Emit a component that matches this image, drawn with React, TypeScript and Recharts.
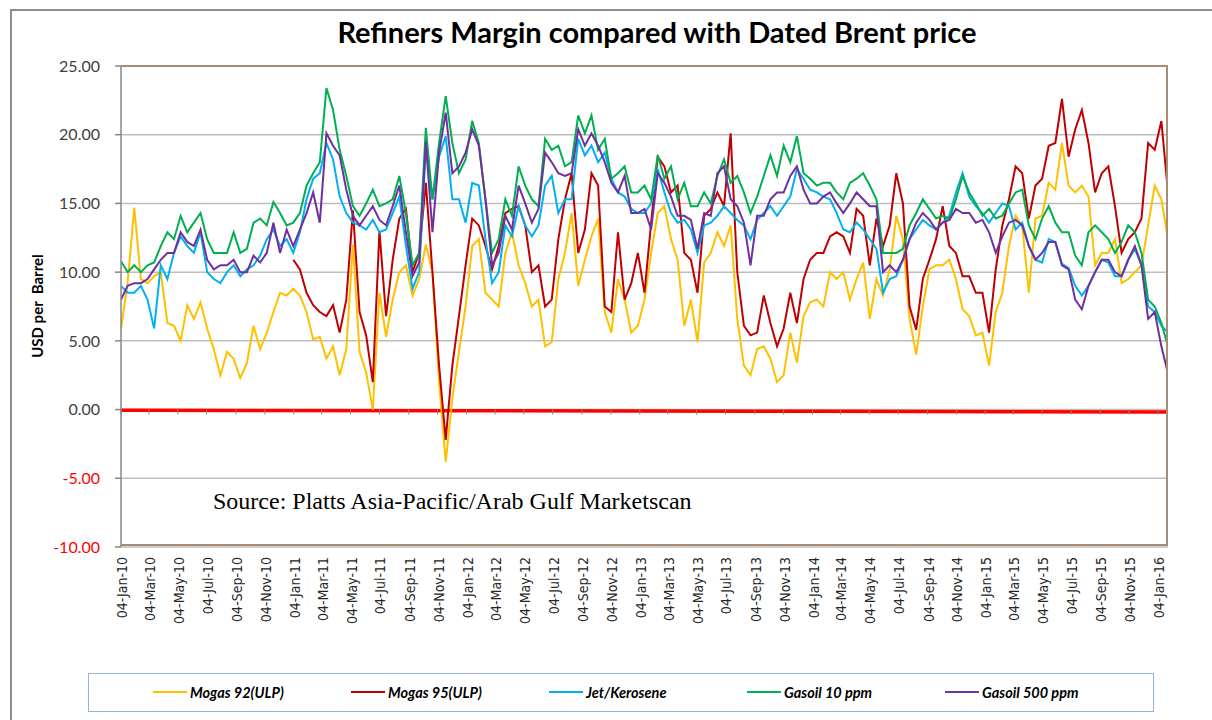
import React from 'react';
import { LineChart, Line, XAxis, YAxis, CartesianGrid } from 'recharts';

// fortnightly readings, first point 04-Jan-10
const START_DATE = '2010-01-04';
const STEP_DAYS = 14;

const mogas92 = [
  5.9, 9.2, 14.7, 9.5, 9.2, 9.7, 10.0, 6.3, 6.1, 5.0,
  7.6, 6.6, 7.8, 5.9, 4.4, 2.5, 4.2, 3.7, 2.3, 3.4,
  6.1, 4.4, 5.6, 7.1, 8.5, 8.3, 8.8, 8.3, 7.1, 5.1,
  5.3, 3.7, 4.6, 2.5, 4.4, 12.0, 4.2, 2.7, 0.0, 8.5,
  5.3, 8.0, 10.0, 10.5, 8.3, 9.5, 12.0, 10.0, 2.0, -3.8,
  0.8, 4.2, 7.5, 11.9, 12.4, 8.5, 8.0, 7.5, 11.4, 12.9,
  10.5, 9.2, 7.5, 8.0, 4.6, 4.9, 9.5, 11.4, 14.3, 9.0,
  10.9, 12.6, 13.9, 7.1, 5.6, 9.5, 8.0, 5.6, 6.1, 8.0,
  11.4, 14.3, 14.8, 12.4, 10.9, 6.1, 8.0, 4.9, 10.7, 11.4,
  12.9, 11.9, 13.4, 6.6, 3.2, 2.5, 4.4, 4.6, 3.7, 2.0,
  2.5, 5.6, 3.4, 6.8, 7.8, 8.0, 7.5, 10.0, 9.5, 10.0,
  8.0, 9.5, 10.7, 6.6, 9.5, 8.3, 10.2, 14.1, 12.4, 6.6,
  4.0, 7.5, 10.2, 10.5, 10.5, 10.9, 9.5, 7.3, 6.8, 5.4,
  5.6, 3.2, 7.1, 8.5, 11.9, 14.1, 13.4, 8.5, 13.9, 14.1,
  16.5, 16.0, 19.4, 16.3, 15.8, 16.3, 15.5, 10.5, 11.4, 11.4,
  12.4, 9.2, 9.5, 10.0, 10.5, 13.4, 16.3, 15.3, 12.4,
];

const mogas95 = [
  null, null, null, null, null, null, null, null, null, null,
  null, null, null, null, null, null, null, null, null, null,
  null, null, null, null, null, null, 10.9, 10.2, 8.5, 7.6,
  7.1, 6.8, 7.6, 5.6, 8.0, 14.5, 7.1, 5.4, 2.0, 13.0,
  6.8, 10.9, 13.9, 14.6, 10.0, 11.4, 16.5, 10.0, 3.2, -2.2,
  3.2, 6.8, 10.5, 13.9, 13.4, 11.9, 10.2, 11.9, 14.3, 14.6,
  14.8, 13.4, 10.0, 10.5, 7.5, 8.0, 12.4, 15.3, 17.2, 11.4,
  13.1, 17.2, 16.3, 7.5, 7.1, 12.9, 8.0, 9.2, 11.4, 8.5,
  13.6, 18.4, 17.7, 15.8, 16.3, 11.4, 10.9, 8.5, 14.1, 14.6,
  15.8, 14.8, 20.1, 10.0, 6.1, 5.4, 5.6, 8.3, 6.3, 4.6,
  5.9, 8.5, 6.3, 9.5, 10.9, 11.4, 11.4, 12.6, 12.9, 12.6,
  11.4, 14.6, 14.1, 10.5, 13.9, 11.9, 13.4, 17.2, 15.0, 7.5,
  5.8, 9.5, 10.9, 12.4, 14.8, 11.9, 11.4, 9.7, 9.7, 8.5,
  8.5, 5.6, 10.2, 13.4, 15.3, 17.7, 17.2, 13.9, 16.3, 16.8,
  19.2, 19.4, 22.6, 18.4, 20.4, 21.8, 19.4, 15.8, 17.2, 17.7,
  14.8, 11.4, 12.4, 12.9, 13.9, 19.4, 18.9, 21.0, 15.8,
];

const jetKerosene = [
  9.0, 8.5, 8.5, 9.0, 8.0, 5.9, 10.5, 9.5, 11.4, 12.6,
  11.9, 11.4, 12.9, 10.0, 9.5, 9.2, 10.0, 10.5, 9.7, 10.2,
  10.5, 11.2, 12.4, 13.1, 11.9, 12.4, 11.4, 12.9, 15.3, 16.8,
  17.2, 19.4, 18.2, 15.5, 14.3, 13.6, 13.4, 13.1, 13.8, 12.9,
  13.1, 14.3, 15.5, 11.9, 8.8, 10.0, 19.0, 15.3, 18.4, 19.9,
  15.3, 15.3, 13.6, 16.5, 16.3, 12.4, 9.2, 10.0, 13.4, 12.6,
  14.8, 13.4, 12.6, 13.4, 16.3, 17.0, 14.3, 15.3, 15.3, 19.7,
  18.5, 19.2, 18.0, 18.7, 16.8, 15.8, 15.5, 14.6, 14.3, 14.3,
  15.0, 17.5, 15.8, 14.3, 13.6, 13.8, 13.1, 11.4, 13.4, 13.6,
  14.1, 14.8, 14.3, 13.8, 13.4, 12.4, 13.8, 14.3, 14.8, 14.1,
  14.8, 15.5, 17.5, 16.8, 16.0, 15.8, 15.5, 15.3, 14.3, 13.1,
  12.9, 13.6, 13.1, 12.4, 11.7, 8.5, 9.5, 9.7, 10.9, 12.4,
  13.1, 13.8, 13.4, 13.1, 13.6, 14.1, 15.8, 17.2, 15.5, 14.8,
  14.3, 13.6, 14.3, 15.0, 14.8, 13.1, 13.6, 11.9, 10.9, 10.7,
  12.4, 12.2, 10.6, 10.3, 9.0, 8.3, 9.0, 10.0, 10.9, 10.7,
  9.7, 9.7, 10.9, 11.7, 10.5, 7.5, 7.1, 6.1, 5.6,
];

const gasoil10 = [
  10.8, 10.0, 10.5, 10.0, 10.5, 10.7, 11.9, 12.9, 12.4, 14.1,
  12.9, 13.6, 14.3, 12.4, 11.4, 11.4, 11.4, 12.9, 11.4, 11.7,
  13.6, 13.9, 13.4, 15.1, 14.3, 13.4, 13.6, 14.3, 16.3, 17.2,
  18.0, 23.4, 21.8, 18.9, 17.0, 14.8, 14.1, 15.0, 16.0, 14.8,
  15.0, 15.3, 17.0, 14.3, 10.5, 11.4, 20.5, 15.3, 19.4, 22.8,
  19.4, 17.2, 18.2, 21.0, 19.4, 15.3, 11.4, 12.4, 15.3, 14.1,
  17.7, 16.3, 15.3, 14.8, 19.7, 18.9, 19.2, 17.7, 18.0, 21.4,
  20.1, 21.4, 18.9, 19.7, 16.8, 17.2, 17.7, 15.8, 15.8, 16.3,
  15.3, 18.5, 16.8, 17.7, 15.3, 16.5, 14.8, 14.8, 15.8, 15.0,
  17.0, 18.2, 16.5, 17.0, 15.8, 14.3, 15.5, 17.0, 18.5, 17.0,
  19.2, 18.0, 19.9, 17.2, 16.8, 16.3, 16.5, 16.5, 15.8, 15.3,
  16.5, 16.8, 17.2, 16.3, 15.3, 11.4, 11.4, 11.4, 11.7, 13.4,
  14.3, 15.3, 14.6, 13.9, 14.1, 13.9, 15.3, 17.0, 15.8, 15.0,
  14.1, 14.6, 13.9, 14.1, 15.0, 15.8, 16.0, 13.4, 12.4, 13.9,
  14.8, 13.6, 12.9, 12.9, 11.2, 10.5, 12.9, 13.4, 12.9, 12.4,
  11.4, 12.2, 13.4, 12.9, 11.4, 8.0, 7.5, 6.3, 4.6,
];

const gasoil500 = [
  8.0, 9.0, 9.2, 9.2, 9.5, 10.2, 10.9, 11.4, 11.4, 12.9,
  12.2, 11.9, 13.1, 10.9, 10.2, 10.5, 10.5, 10.9, 10.0, 10.0,
  11.2, 10.7, 11.4, 13.6, 11.4, 13.1, 11.9, 13.1, 14.3, 15.8,
  13.6, 20.1, 19.2, 18.5, 16.0, 14.1, 13.4, 14.1, 14.8, 13.8,
  13.4, 14.8, 16.3, 12.9, 9.7, 10.7, 19.5, 12.9, 18.7, 21.6,
  17.2, 17.7, 18.7, 20.4, 19.2, 15.3, 10.5, 11.4, 14.1, 13.1,
  16.3, 15.0, 13.6, 14.6, 18.7, 18.0, 17.2, 17.0, 17.2, 20.4,
  19.2, 20.1, 19.2, 18.0, 16.5, 15.8, 17.0, 14.3, 14.3, 14.6,
  13.1, 17.2, 16.5, 15.5, 14.1, 14.1, 13.8, 11.7, 14.3, 14.1,
  17.2, 17.7, 15.3, 14.8, 13.6, 10.5, 14.1, 14.1, 15.3, 15.8,
  15.8, 17.0, 17.7, 16.0, 15.0, 15.0, 15.5, 15.8, 15.0, 14.3,
  15.0, 15.8, 15.3, 14.8, 14.8, 10.0, 10.5, 10.0, 10.9, 12.4,
  13.6, 14.3, 13.8, 13.1, 13.6, 13.8, 14.6, 14.3, 14.3, 13.6,
  13.8, 12.9, 11.4, 12.6, 13.6, 13.8, 13.4, 11.9, 10.9, 11.4,
  12.2, 12.2, 10.5, 10.2, 8.0, 7.3, 9.0, 10.0, 10.9, 10.9,
  10.0, 9.7, 10.9, 11.9, 10.5, 6.6, 7.1, 4.6, 2.6,
];

// the thick red line just under zero
const brentDates = ['2010-01-04', '2012-01-04', '2014-01-04', '2016-01-25'];
const brentValues = [-0.05, -0.08, -0.12, -0.18];

const tickLabels = [
  '04-Jan-10', '04-Mar-10', '04-May-10', '04-Jul-10', '04-Sep-10', '04-Nov-10',
  '04-Jan-11', '04-Mar-11', '04-May-11', '04-Jul-11', '04-Sep-11', '04-Nov-11',
  '04-Jan-12', '04-Mar-12', '04-May-12', '04-Jul-12', '04-Sep-12', '04-Nov-12',
  '04-Jan-13', '04-Mar-13', '04-May-13', '04-Jul-13', '04-Sep-13', '04-Nov-13',
  '04-Jan-14', '04-Mar-14', '04-May-14', '04-Jul-14', '04-Sep-14', '04-Nov-14',
  '04-Jan-15', '04-Mar-15', '04-May-15', '04-Jul-15', '04-Sep-15', '04-Nov-15',
  '04-Jan-16',
];
const yTicks = [-10, -5, 0, 5, 10, 15, 20, 25];

const seriesInfo = [
  { key: 'mogas92', name: 'Mogas 92(ULP)', color: '#FFC000' },
  { key: 'mogas95', name: 'Mogas 95(ULP)', color: '#C00000' },
  { key: 'jet', name: 'Jet/Kerosene', color: '#00B0F0' },
  { key: 'gasoil10', name: 'Gasoil 10 ppm', color: '#00B050' },
  { key: 'gasoil500', name: 'Gasoil 500 ppm', color: '#7030A0' },
];

const MONTHS = ['Jan', 'Feb', 'Mar', 'Apr', 'May', 'Jun', 'Jul', 'Aug', 'Sep', 'Oct', 'Nov', 'Dec'];
const DAY = 86400000;
const parseLabel = (s: string) => {
  const [d, m, y] = s.split('-');
  return Date.UTC(2000 + Number(y), MONTHS.indexOf(m), Number(d));
};
const parseIso = (s: string) => {
  const [y, m, d] = s.split('-').map(Number);
  return Date.UTC(y, m - 1, d);
};

const startMs = parseIso(START_DATE);
const data = mogas92.map((v, i) => ({
  date: startMs + i * STEP_DAYS * DAY,
  mogas92: v,
  mogas95: mogas95[i],
  jet: jetKerosene[i],
  gasoil10: gasoil10[i],
  gasoil500: gasoil500[i],
}));
const brentData = brentDates.map((d, i) => ({ date: parseIso(d), brent: brentValues[i] }));
const xTicks = tickLabels.map(parseLabel);
const labelByMs: Record<number, string> = {};
tickLabels.forEach((l, i) => (labelByMs[xTicks[i]] = l));

// layout
const W = 1212;
const H = 720;
const PLOT_L = 121;
const PLOT_T = 66;
const PLOT_R = 1168;
const PLOT_B = 547;
const Y_MIN = -10;
const Y_MAX = 25;
const ZERO_Y = PLOT_T + ((PLOT_B - PLOT_T) * Y_MAX) / (Y_MAX - Y_MIN);

const XTick = (props: any) => {
  const { x, payload } = props;
  return (
    <g>
      <line x1={x} x2={x} y1={ZERO_Y} y2={ZERO_Y + 5} stroke="#868686" strokeWidth={1} />
      <text
        transform={`translate(${x + 6},${PLOT_B + 10}) rotate(-90)`}
        textAnchor="end"
        fontSize={14}
        fill="#262626"
        fontFamily="'Liberation Sans Narrow', 'DejaVu Sans Condensed', sans-serif"
      >
        {labelByMs[payload.value]}
      </text>
    </g>
  );
};

const YTick = (props: any) => {
  const { x, y, payload } = props;
  const v = payload.value as number;
  return (
    <text
      x={x}
      y={y}
      dy="0.36em"
      textAnchor="end"
      fontSize={16}
      fontFamily="Lato, sans-serif"
      fill={v < 0 ? '#FF0000' : '#404040'}
    >
      {v.toFixed(2)}
    </text>
  );
};

export default function App() {
  return (
    <div style={{ position: 'absolute', left: 0, top: 0, width: W, height: H, background: '#fff', overflow: 'hidden' }}>
      <div
        style={{
          position: 'absolute',
          left: 10,
          top: 9,
          width: W,
          height: H,
          borderLeft: '2px solid #8E8E8E',
          borderTop: '2px solid #8E8E8E',
        }}
      />
      <div
        style={{
          position: 'absolute',
          left: 0,
          width: W,
          top: 13,
          textAlign: 'center',
          paddingLeft: 102,
          boxSizing: 'border-box',
          fontFamily: 'Lato, sans-serif',
          fontWeight: 700,
          fontSize: 29,
          color: '#000',
          lineHeight: '38px',
        }}
      >
        Refiners Margin compared with Dated Brent price
      </div>
      <div
        style={{
          position: 'absolute',
          left: 37,
          top: 306,
          transform: 'translate(-50%, -50%) rotate(-90deg)',
          whiteSpace: 'nowrap',
          fontFamily: 'Lato, sans-serif',
          fontWeight: 700,
          fontSize: 15,
          color: '#000',
        }}
      >
        USD per&nbsp; Barrel
      </div>
      <div style={{ position: 'absolute', left: 0, top: 0 }}>
        <LineChart
          width={W}
          height={H}
          data={data}
          margin={{ top: PLOT_T, right: W - PLOT_R, bottom: 0, left: 0 }}
        >
          <CartesianGrid vertical={false} stroke="#BDBDBD" strokeWidth={1.5} />
          <XAxis
            dataKey="date"
            type="number"
            domain={[data[0].date, data[data.length - 1].date]}
            allowDataOverflow
            ticks={xTicks}
            interval={0}
            tick={<XTick />}
            axisLine={false}
            tickLine={false}
            height={H - PLOT_B}
          />
          <YAxis
            width={PLOT_L}
            domain={[Y_MIN, Y_MAX]}
            ticks={yTicks}
            interval={0}
            allowDataOverflow
            tick={<YTick />}
            tickSize={6}
            tickMargin={15}
            axisLine={{ stroke: '#868686', strokeWidth: 1.5 }}
            tickLine={{ stroke: '#868686', strokeWidth: 1.5 }}
          />
          <Line
            data={brentData}
            dataKey="brent"
            type="linear"
            stroke="#FF0000"
            strokeWidth={3.5}
            dot={false}
            activeDot={false}
            legendType="none"
            isAnimationActive={false}
          />
          {seriesInfo.map((s) => (
            <Line
              key={s.key}
              dataKey={s.key}
              name={s.name}
              type="linear"
              stroke={s.color}
              strokeWidth={2}
              dot={false}
              activeDot={false}
              connectNulls={false}
              isAnimationActive={false}
            />
          ))}
        </LineChart>
      </div>
      <div
        style={{
          position: 'absolute',
          left: PLOT_L,
          top: PLOT_T,
          width: PLOT_R - PLOT_L,
          height: PLOT_B - PLOT_T,
          borderTop: '2px solid #A88C74',
          borderRight: '2px solid #A88C74',
          borderBottom: '2px solid #A88C74',
          boxSizing: 'border-box',
          transform: 'translate(0, -1px)',
          pointerEvents: 'none',
        }}
      />
      <div
        style={{
          position: 'absolute',
          left: 213,
          top: 486,
          fontFamily: "'Liberation Serif', 'Times New Roman', serif",
          fontSize: 24,
          lineHeight: '30px',
          color: '#000',
          whiteSpace: 'nowrap',
        }}
      >
        Source: Platts Asia-Pacific/Arab Gulf Marketscan
      </div>
      <div
        style={{
          position: 'absolute',
          left: 88,
          top: 673,
          width: 1066,
          height: 39,
          border: '1.5px solid #95B3D7',
          boxSizing: 'border-box',
        }}
      >
        {seriesInfo.map((s, i) => (
          <div
            key={s.key}
            style={{
              position: 'absolute',
              left: 64 + i * 198,
              top: 0,
              height: 36,
              display: 'flex',
              alignItems: 'center',
              whiteSpace: 'nowrap',
            }}
          >
            <span style={{ display: 'inline-block', width: 34, height: 2, background: s.color, marginRight: 3 }} />
            <span
              style={{
                fontFamily: 'Lato, sans-serif',
                fontWeight: 700,
                fontStyle: 'italic',
                fontSize: 14.5,
                color: '#000',
              }}
            >
              {s.name}
            </span>
          </div>
        ))}
      </div>
    </div>
  );
}
